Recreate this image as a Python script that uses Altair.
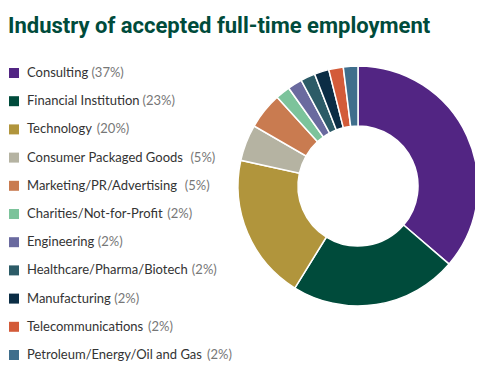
import altair as alt
import pandas as pd
import struct, glob, os, subprocess

title_text = "Industry of accepted full-time employment"
categories = [
    "Consulting",
    "Financial Institution",
    "Technology",
    "Consumer Packaged Goods",
    "Marketing/PR/Advertising",
    "Charities/Not-for-Profit",
    "Engineering",
    "Healthcare/Pharma/Biotech",
    "Manufacturing",
    "Telecommunications",
    "Petroleum/Energy/Oil and Gas",
]
percents = [37, 23, 20, 5, 5, 2, 2, 2, 2, 2, 2]
separators = [" ", " ", " ", "  ", "  ", " ", " ", " ", " ", " ", " "]
colors = [
    "#522583", "#004b3b", "#b1953c", "#b5b3a2", "#c97b50", "#7cc39b",
    "#6a6a9f", "#2c5b67", "#0b2d45", "#d35b39", "#3f6e8c",
]

FONT = "Lato"
FONT_SIZE = 13
LABEL_X = 19


def find_font():
    try:
        r = subprocess.run(["fc-match", "-f", "%{file}", "Lato:style=Regular"],
                           capture_output=True, text=True, timeout=10)
        p = r.stdout.strip()
        if p and os.path.exists(p) and "Lato" in p:
            return p
    except Exception:
        pass
    for root in ["/usr/share/fonts", "/usr/local/share/fonts", os.path.expanduser("~/.fonts")]:
        hits = glob.glob(os.path.join(root, "**", "Lato-Regular.ttf"), recursive=True)
        if hits:
            return hits[0]
    return None


def make_measurer(path):
    data = open(path, "rb").read()
    num = struct.unpack(">H", data[4:6])[0]
    tables = {}
    for i in range(num):
        tag, _, off, ln = struct.unpack(">4sIII", data[12 + 16 * i:28 + 16 * i])
        tables[tag.decode("latin1")] = off
    upm = struct.unpack(">H", data[tables["head"] + 18:tables["head"] + 20])[0]
    nhm = struct.unpack(">H", data[tables["hhea"] + 34:tables["hhea"] + 36])[0]
    hm = tables["hmtx"]
    adv = [struct.unpack(">H", data[hm + 4 * i:hm + 4 * i + 2])[0] for i in range(nhm)]
    co = tables["cmap"]
    nsub = struct.unpack(">H", data[co + 2:co + 4])[0]
    so = None
    for i in range(nsub):
        pid, eid, soff = struct.unpack(">HHI", data[co + 4 + 8 * i:co + 12 + 8 * i])
        fmt = struct.unpack(">H", data[co + soff:co + soff + 2])[0]
        if fmt == 4 and (pid, eid) in [(3, 1), (0, 3), (0, 4), (0, 1)]:
            so = co + soff
            break
    seg2 = struct.unpack(">H", data[so + 6:so + 8])[0]
    n = seg2 // 2
    ends = struct.unpack(">%dH" % n, data[so + 14:so + 14 + seg2])
    starts = struct.unpack(">%dH" % n, data[so + 16 + seg2:so + 16 + 2 * seg2])
    deltas = struct.unpack(">%dh" % n, data[so + 16 + 2 * seg2:so + 16 + 3 * seg2])
    rpos = so + 16 + 3 * seg2
    ranges = struct.unpack(">%dH" % n, data[rpos:rpos + seg2])

    def glyph(c):
        for i in range(n):
            if ends[i] >= c:
                if starts[i] > c:
                    return 0
                if ranges[i] == 0:
                    return (c + deltas[i]) & 0xFFFF
                addr = rpos + 2 * i + ranges[i] + 2 * (c - starts[i])
                g = struct.unpack(">H", data[addr:addr + 2])[0]
                return (g + deltas[i]) & 0xFFFF if g else 0
        return 0

    def width(s, size):
        return sum(adv[min(glyph(ord(ch)), nhm - 1)] for ch in s) / upm * size
    return width


try:
    measure = make_measurer(find_font())
except Exception:
    measure = lambda s, size: len(s) * size * 0.52

df = pd.DataFrame({
    "name": categories,
    "pct": percents,
    "idx": list(range(len(categories))),
    "pct_text": [f"({p}%)" for p in percents],
})
df["pct_x"] = [LABEL_X + measure(n + s, FONT_SIZE) for n, s in zip(categories, separators)]

color = alt.Color("name:N", scale=alt.Scale(domain=categories, range=colors), legend=None)
ypos = alt.Y("name:N", sort=categories, axis=None,
             scale=alt.Scale(type="point", range=[65, 347], padding=0))

base = alt.Chart(df)

arc = base.mark_arc(innerRadius=60, outerRadius=120, stroke="white", strokeWidth=1.5).encode(
    theta=alt.Theta("pct:Q", stack=True),
    order=alt.Order("idx:Q"),
    color=color,
    x=alt.value(350),
    y=alt.value(178),
)

squares = base.mark_square(size=100, opacity=1).encode(
    x=alt.value(6), y=ypos, color=color,
)

label_name = base.mark_text(align="left", baseline="middle", font=FONT, fontSize=FONT_SIZE,
                            color="#333333").encode(
    x=alt.value(LABEL_X), y=ypos, text="name:N",
)
label_pct = base.mark_text(align="left", baseline="middle", font=FONT, fontSize=FONT_SIZE,
                           color="#777777").encode(
    x=alt.X("pct_x:Q", scale=None, axis=None), y=ypos, text="pct_text:N",
)

title = alt.Chart(pd.DataFrame({"t": [title_text]})).mark_text(
    align="left", baseline="alphabetic", font="Roboto", fontSize=22, fontWeight="bold",
    color="#004b3b",
).encode(text="t:N", x=alt.value(0), y=alt.value(25))

chart = alt.layer(arc, squares, label_name, label_pct, title).properties(
    width=467, height=365, padding=0,
    autosize=alt.AutoSizeParams(type="none"),
).configure_view(stroke=None)

chart.save("out.html", embed_options={"renderer": "svg", "actions": False})
